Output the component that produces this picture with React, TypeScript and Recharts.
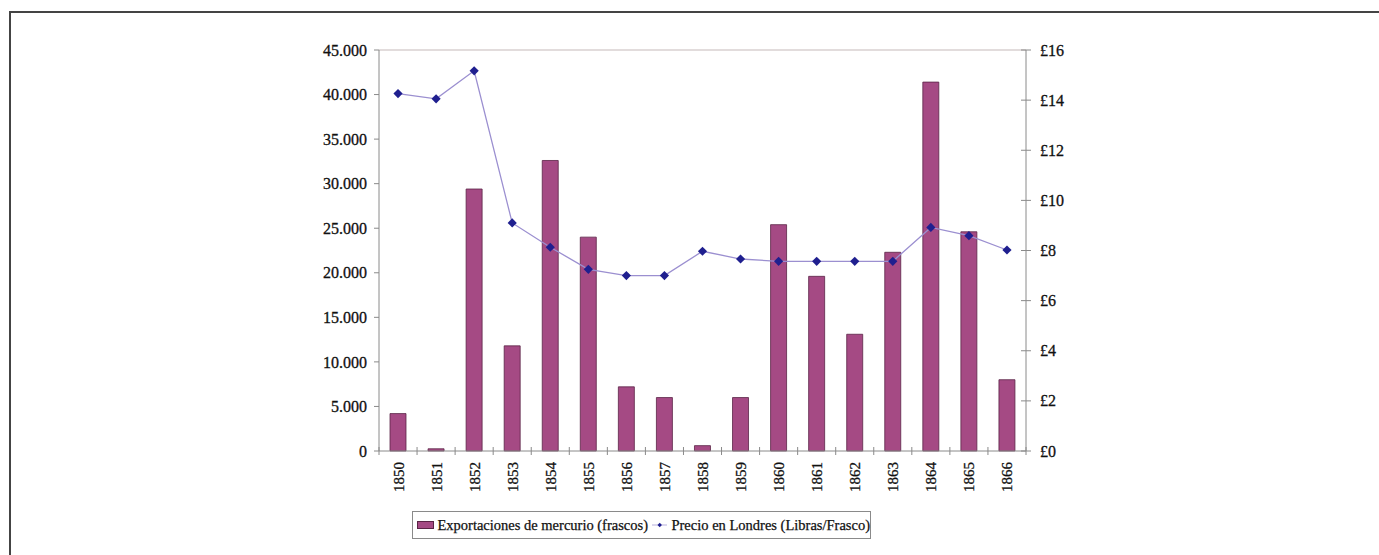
import { ComposedChart, Bar, Line, XAxis, YAxis, ReferenceLine } from 'recharts';

const years = ['1850', '1851', '1852', '1853', '1854', '1855', '1856', '1857', '1858', '1859', '1860', '1861', '1862', '1863', '1864', '1865', '1866'];
const exportaciones = [4200, 250, 29400, 11800, 32600, 24000, 7200, 6000, 600, 6000, 25400, 19600, 13100, 22300, 41400, 24600, 8000];
const precio = [14.26, 14.05, 15.17, 9.1, 8.13, 7.25, 7.0, 7.0, 7.97, 7.66, 7.57, 7.57, 7.57, 7.57, 8.92, 8.59, 8.02];

const leftTicks = [0, 5000, 10000, 15000, 20000, 25000, 30000, 35000, 40000, 45000];
const rightTicks = [0, 2, 4, 6, 8, 10, 12, 14, 16];

const barName = 'Exportaciones de mercurio (frascos)';
const lineName = 'Precio en Londres (Libras/Frasco)';

const data = years.map((year, i) => ({ year, exportaciones: exportaciones[i], precio: precio[i] }));

const FONT = '"Liberation Serif", "Times New Roman", serif';
const TEXT = '#111';
const AXIS = '#8a8a8a';
const BAR_FILL = '#a54a84';
const BAR_STROKE = '#5a2446';
const LINE = '#9b8fd0';
const DOT = '#1f1f8f';

const fmtThousands = (v: number) => String(v).replace(/\B(?=(\d{3})+(?!\d))/g, '.');

const Diamond = (props: any) => {
  const { cx, cy } = props;
  if (cx == null || cy == null) return null;
  const r = 4.6;
  return <polygon points={`${cx},${cy - r} ${cx + r},${cy} ${cx},${cy + r} ${cx - r},${cy}`} fill={DOT} />;
};

// x ticks: rotated year labels, tick marks sit between categories
const YearTick = (props: any) => {
  const { x, y, payload, index, visibleTicksCount } = props;
  const half = payload?.offset ?? 19;
  const axisY = y - 7;
  return (
    <g>
      <line x1={x - half} x2={x - half} y1={axisY - 4} y2={axisY + 4} stroke={AXIS} />
      {index === visibleTicksCount - 1 && (
        <line x1={x + half} x2={x + half} y1={axisY - 4} y2={axisY + 4} stroke={AXIS} />
      )}
      <text
        transform={`translate(${x + 5.5}, ${y + 4}) rotate(-90)`}
        textAnchor="end"
        fontFamily={FONT}
        fontSize={15}
        fill={TEXT}
        stroke={TEXT}
        strokeWidth={0.3}
      >
        {payload.value}
      </text>
    </g>
  );
};

// right axis ticks cross the axis line
const PoundTick = (props: any) => {
  const { x, y, payload } = props;
  const axisX = x - 14;
  return (
    <g>
      <line x1={axisX - 5} x2={axisX + 5} y1={y} y2={y} stroke={AXIS} />
      <text x={x} y={y} dy="0.35em" textAnchor="start" fontFamily={FONT} fontSize={16} fill={TEXT} stroke={TEXT} strokeWidth={0.3}>
        £{payload.value}
      </text>
    </g>
  );
};

const legendStyle: React.CSSProperties = {
  position: 'absolute',
  left: 412,
  top: 511,
  width: 457,
  height: 26,
  border: '1px solid #8a8a8a',
  background: '#fff',
  display: 'flex',
  alignItems: 'center',
  fontFamily: FONT,
  fontSize: 14.5,
  color: TEXT,
  WebkitTextStroke: '0.25px #111',
  whiteSpace: 'nowrap',
};

export default function App() {
  return (
    <div style={{ position: 'absolute', left: 0, top: 0, width: 1379, height: 555, background: '#fff', overflow: 'hidden' }}>
      <div
        style={{
          position: 'absolute',
          left: 9,
          top: 11,
          width: 1400,
          height: 600,
          borderLeft: '2px solid #444',
          borderTop: '2px solid #444',
        }}
      />
      <div style={{ position: 'absolute', left: 0, top: 0 }}>
        <ComposedChart
          width={1379}
          height={555}
          data={data}
          margin={{ top: 50, right: 303, left: 319, bottom: 59 }}
        >
          <XAxis
            dataKey="year"
            height={45}
            tickSize={5}
            tickMargin={2}
            tickLine={false}
            axisLine={{ stroke: AXIS }}
            tick={<YearTick />}
            interval={0}
          />
          <YAxis
            yAxisId="left"
            orientation="left"
            width={60}
            domain={[0, 45000]}
            ticks={leftTicks}
            tickFormatter={fmtThousands}
            tickSize={5}
            tickMargin={7}
            tickLine={{ stroke: AXIS }}
            axisLine={{ stroke: AXIS }}
            tick={{ fontFamily: FONT, fontSize: 16, fill: TEXT, stroke: TEXT, strokeWidth: 0.3 }}
          />
          <YAxis
            yAxisId="right"
            orientation="right"
            width={50}
            domain={[0, 16]}
            ticks={rightTicks}
            tickSize={5}
            tickMargin={9}
            tickLine={false}
            axisLine={{ stroke: AXIS }}
            tick={<PoundTick />}
          />
          <ReferenceLine yAxisId="left" y={45000} stroke="#d8d0d0" strokeWidth={1.5} />
          <Bar
            yAxisId="left"
            dataKey="exportaciones"
            name={barName}
            barSize={16}
            fill={BAR_FILL}
            stroke={BAR_STROKE}
            strokeWidth={0.8}
            isAnimationActive={false}
          />
          <Line
            yAxisId="right"
            type="linear"
            dataKey="precio"
            name={lineName}
            stroke={LINE}
            strokeWidth={1.3}
            dot={<Diamond />}
            activeDot={false}
            isAnimationActive={false}
          />
        </ComposedChart>
      </div>
      <div style={legendStyle}>
        <span
          style={{
            display: 'inline-block',
            width: 28,
            height: 6,
            background: BAR_FILL,
            border: `1px solid ${BAR_STROKE}`,
            marginLeft: 4,
            marginRight: 3,
          }}
        />
        <span>{barName}</span>
        <svg width={28} height={14} viewBox="0 0 28 14" style={{ marginLeft: 4, marginRight: 4, display: 'block' }}>
          <line x1={0} x2={28} y1={7} y2={7} stroke={LINE} strokeWidth={1.3} />
          <polygon points="14,3 18,7 14,11 10,7" fill={DOT} />
        </svg>
        <span>{lineName}</span>
      </div>
    </div>
  );
}
